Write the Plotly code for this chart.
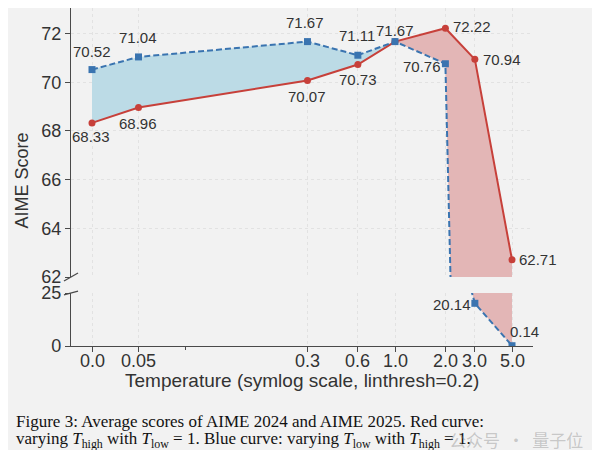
import numpy as np
import plotly.graph_objects as go

# ---------------- data ----------------
temps = [0.0, 0.05, 0.3, 0.6, 1.0, 2.0, 3.0, 5.0]
tick_labels = ["0.0", "0.05", "0.3", "0.6", "1.0", "2.0", "3.0", "5.0"]
blue_scores = [70.52, 71.04, 71.67, 71.11, 71.67, 70.76, 20.14, 0.14]   # varying T_low, T_high = 1
red_scores = [68.33, 68.96, 70.07, 70.73, 71.67, 72.22, 70.94, 62.71]   # varying T_high, T_low = 1
top_ticks = [62, 64, 66, 68, 70, 72]
bottom_ticks = [0, 25]
minor_x = [0.1]

# ---------------- symlog scale (linthresh=0.2, base 10, linscale 1) ----------------
LINTHRESH = 0.2
LINSCALE_ADJ = 1.0 / (1.0 - 1.0 / 10.0)


def symlog(v):
    v = np.asarray(v, dtype=float)
    a = np.abs(v)
    out = np.where(
        a <= LINTHRESH,
        a * LINSCALE_ADJ,
        LINTHRESH * (LINSCALE_ADJ + np.log10(np.maximum(a, 1e-12) / LINTHRESH)),
    )
    return np.sign(v) * out


xs = symlog(temps)
xmin, xmax = xs.min(), xs.max()
pad = 0.05 * (xmax - xmin)
xrange_ = [xmin - pad, xmax + pad]

# ---------------- styles ----------------
BG = "#f2f2f2"
BLUE = "#3a74b0"
RED = "#c7403a"
BLUE_FILL = "#bcdbe6"
RED_FILL = "#e3b6b6"
AXIS = "#4a4a4a"
GRID = "#e2e2e2"
TXT = "#333333"
SANS = "Liberation Sans, Arial, sans-serif"
SERIF = "Liberation Serif, Times New Roman, serif"

# label offsets (px): (dx, dy) with dy positive downward
blue_off = [(0, -18), (-1, -19), (-2, -19), (-1, -20), (0, -11), (-23, 3), (-23, 1), (12, -14)]
red_off = [(-1, 14), (-1, 16), (0, 16), (0, 15), None, (27, -2), (27, 0), (26, 0)]

fig = go.Figure()

panels = [("x2", "y2"), ("x", "y")]
split = temps.index(1.0)

for xa, ya in panels:
    # blue region (T <= 1.0): blue above red
    fig.add_trace(go.Scatter(x=xs[: split + 1], y=blue_scores[: split + 1], mode="lines",
                             line=dict(width=0, color=BLUE_FILL), xaxis=xa, yaxis=ya,
                             showlegend=False, hoverinfo="skip"))
    fig.add_trace(go.Scatter(x=xs[: split + 1], y=red_scores[: split + 1], mode="lines",
                             line=dict(width=0, color=BLUE_FILL), fill="tonexty",
                             fillcolor=BLUE_FILL, xaxis=xa, yaxis=ya,
                             showlegend=False, hoverinfo="skip"))
    # red region (T >= 1.0): red above blue
    fig.add_trace(go.Scatter(x=xs[split:], y=blue_scores[split:], mode="lines",
                             line=dict(width=0, color=RED_FILL), xaxis=xa, yaxis=ya,
                             showlegend=False, hoverinfo="skip"))
    fig.add_trace(go.Scatter(x=xs[split:], y=red_scores[split:], mode="lines",
                             line=dict(width=0, color=RED_FILL), fill="tonexty",
                             fillcolor=RED_FILL, xaxis=xa, yaxis=ya,
                             showlegend=False, hoverinfo="skip"))

for xa, ya in panels:
    fig.add_trace(go.Scatter(x=xs, y=red_scores, mode="lines+markers",
                             line=dict(color=RED, width=2),
                             marker=dict(symbol="circle", size=7, color=RED),
                             xaxis=xa, yaxis=ya, showlegend=False))
    fig.add_trace(go.Scatter(x=xs, y=blue_scores, mode="lines+markers",
                             line=dict(color=BLUE, width=2, dash="6px,3px"),
                             marker=dict(symbol="square", size=7, color=BLUE),
                             xaxis=xa, yaxis=ya, showlegend=False))

annotations = []


def add_labels(vals, offs):
    for xv, v, off in zip(xs, vals, offs):
        if off is None:
            continue
        if v >= top_ticks[0]:
            xr, yr = "x2", "y2"
        else:
            xr, yr = "x", "y"
        annotations.append(dict(x=xv, y=v, xref=xr, yref=yr, text=f"{v:.2f}",
                                showarrow=False, xshift=off[0], yshift=-off[1],
                                xanchor="center", yanchor="middle",
                                font=dict(family=SANS, size=15, color=TXT)))


add_labels(blue_scores, blue_off)
add_labels(red_scores, red_off)

# x tick labels (placed as text under the axis)
for xv, lab in zip(xs, tick_labels):
    annotations.append(dict(x=xv, y=-0.0444, xref="x", yref="paper", text=lab,
                            showarrow=False, xanchor="center", yanchor="middle",
                            font=dict(family=SANS, size=18, color=TXT)))

# axis titles
annotations.append(dict(x=-0.106, y=0.49, xref="paper", yref="paper", text="AIME Score",
                        textangle=-90, showarrow=False, xanchor="center", yanchor="middle",
                        font=dict(family=SANS, size=18, color=TXT)))
annotations.append(dict(x=0.5, y=-0.1006, xref="paper", yref="paper",
                        text="Temperature (symlog scale, linthresh=0.2)",
                        showarrow=False, xanchor="center", yanchor="middle",
                        font=dict(family=SANS, size=19, color=TXT)))
# caption
annotations.append(dict(x=-0.1234, y=-0.224, xref="paper", yref="paper", xanchor="left",
                        yanchor="middle", showarrow=False, align="left",
                        text="Figure 3: Average scores of AIME 2024 and AIME 2025. Red curve:",
                        font=dict(family=SERIF, size=17, color="#111111")))
annotations.append(dict(x=-0.1234, y=-0.277, xref="paper", yref="paper", xanchor="left",
                        yanchor="middle", showarrow=False, align="left",
                        text=("varying <i>T</i><sub>high</sub> with <i>T</i><sub>low</sub> = 1. "
                              "Blue curve: varying <i>T</i><sub>low</sub> with "
                              "<i>T</i><sub>high</sub> = 1."),
                        font=dict(family=SERIF, size=17, color="#111111")))
# watermark
annotations.append(dict(x=1.1126, y=-0.278, xref="paper", yref="paper", xanchor="right",
                        yanchor="middle", showarrow=False, text="公众号  ·  量子位",
                        font=dict(family="Noto Sans CJK SC", size=17,
                                  color="rgba(130,130,130,0.4)")))

# broken-axis marks
shapes = [
    dict(type="line", xref="paper", yref="paper", x0=-0.0152, y0=0.1923, x1=0.0152, y1=0.2160,
         line=dict(color=AXIS, width=1.3)),
    dict(type="line", xref="paper", yref="paper", x0=-0.0152, y0=0.1509, x1=0.0152, y1=0.1627,
         line=dict(color=AXIS, width=1.3)),
]

common_x = dict(range=xrange_, tickvals=list(xs), showticklabels=False,
                showgrid=True, gridcolor=GRID, griddash="dot", gridwidth=1,
                zeroline=False)

fig.update_layout(
    width=592, height=442,
    margin=dict(l=63, r=67, t=0, b=104, autoexpand=False),
    paper_bgcolor=BG, plot_bgcolor=BG,
    showlegend=False,
    annotations=annotations,
    shapes=shapes,
    xaxis=dict(**common_x, anchor="y", showline=True, linecolor=AXIS, linewidth=1.3,
               ticks="outside", ticklen=5, tickcolor=AXIS, tickwidth=1.3,
               minor=dict(tickvals=list(symlog(minor_x)), ticks="outside", ticklen=3,
                          tickcolor=AXIS, showgrid=False)),
    xaxis2=dict(**common_x, anchor="y2", matches="x", showline=False, ticks=""),
    yaxis=dict(domain=[0, 0.1568], range=[0, 25], tickvals=bottom_ticks, anchor="x",
               showline=True, linecolor=AXIS, linewidth=1.3, ticks="outside", ticklen=5,
               tickcolor=AXIS, tickwidth=1.3, showgrid=True, gridcolor=GRID, griddash="dot",
               zeroline=False, tickfont=dict(family=SANS, size=18, color=TXT)),
    yaxis2=dict(domain=[0.2041, 1], range=[62, 73.05], tickvals=top_ticks, anchor="x2",
                showline=True, linecolor=AXIS, linewidth=1.3, ticks="outside", ticklen=5,
                tickcolor=AXIS, tickwidth=1.3, showgrid=True, gridcolor=GRID, griddash="dot",
                zeroline=False, tickfont=dict(family=SANS, size=18, color=TXT)),
)

fig.write_html("out.html")
